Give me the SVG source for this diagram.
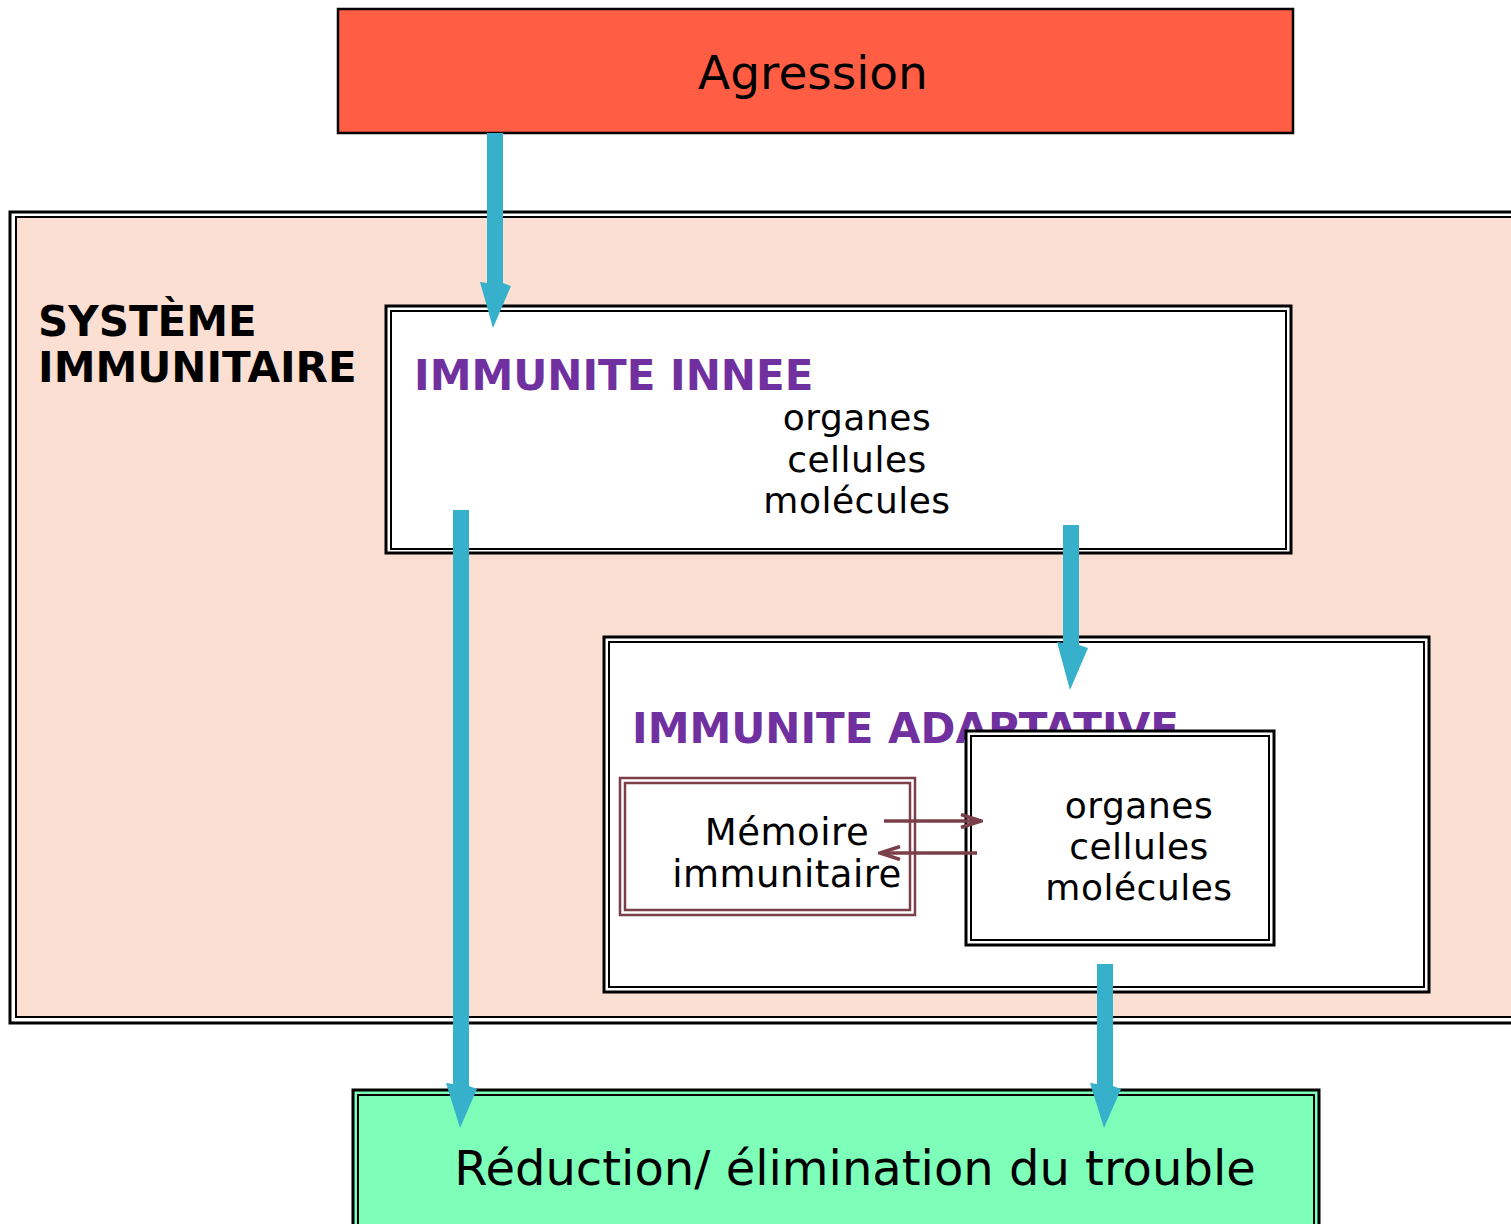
<svg xmlns="http://www.w3.org/2000/svg" width="1511" height="1224" viewBox="0 0 1511 1224">
<defs>
<style>
.t{font-family:"DejaVu Sans","Liberation Sans",sans-serif;fill:#000}
.b{font-weight:bold}
.p{fill:#7030A0}
.s{letter-spacing:0.5px}
.o{stroke:#000;stroke-width:3}
.i{stroke:#000;stroke-width:2}
.blue{fill:#36B0CB}
.br{stroke:#7B3F4A;stroke-width:3.5;fill:none}
</style>
<marker id="chev" viewBox="0 0 24 16" refX="22" refY="8" markerWidth="24" markerHeight="16" markerUnits="userSpaceOnUse" orient="auto">
<path d="M2,1.5 L22,8 L2,14.5" fill="none" stroke="#7B3F4A" stroke-width="3.5"/>
</marker>
</defs>
<rect width="1511" height="1224" fill="#fff"/>

<g id="agression">
<rect x="338" y="9" width="955" height="124" fill="#FF5E45" stroke="#000" stroke-width="2.5"/>
<text class="t" x="813" y="89" font-size="47" text-anchor="middle">Agression</text>
</g>

<g id="systeme">
<rect class="o" x="10" y="212" width="1515" height="811" fill="#fff"/>
<rect class="i" x="16" y="217" width="1510" height="800" fill="#FADFD2"/>
<text class="t b" x="38" y="336" font-size="42">SYSTÈME</text>
<text class="t b" x="38" y="382" font-size="42">IMMUNITAIRE</text>
</g>

<g id="innee">
<rect class="o" x="386" y="306" width="905" height="247" fill="#fff"/>
<rect class="i" x="391" y="311" width="895" height="238" fill="#fff"/>
<text class="t b p" x="414" y="390" font-size="42">IMMUNITE INNEE</text>
<text class="t s" x="857" y="430" font-size="36" text-anchor="middle">organes</text>
<text class="t s" x="857" y="472" font-size="36" text-anchor="middle">cellules</text>
<text class="t s" x="857" y="513" font-size="36" text-anchor="middle">molécules</text>
</g>

<g id="adaptative">
<rect class="o" x="604" y="637" width="825" height="355" fill="#fff"/>
<rect class="i" x="609" y="642" width="815" height="345" fill="#fff"/>
<text class="t b p" x="632" y="743" font-size="42">IMMUNITE ADAPTATIVE</text>
</g>

<g id="memoire">
<rect x="620" y="778" width="295" height="137" fill="#fff" stroke="#7B3F4A" stroke-width="2.5"/>
<rect x="625" y="783" width="285" height="127" fill="none" stroke="#7B3F4A" stroke-width="2.5"/>
<text class="t s" x="787" y="845" font-size="37" text-anchor="middle">Mémoire</text>
<text class="t s" x="787" y="887" font-size="37" text-anchor="middle">immunitaire</text>
</g>

<g id="composants">
<rect class="o" x="966" y="731" width="308" height="214" fill="#fff"/>
<rect class="i" x="971" y="736" width="298" height="204" fill="#fff"/>
<text class="t s" x="1139" y="818" font-size="36" text-anchor="middle">organes</text>
<text class="t s" x="1139" y="859" font-size="36" text-anchor="middle">cellules</text>
<text class="t s" x="1139" y="900" font-size="36" text-anchor="middle">molécules</text>
</g>

<g id="reduction">
<rect class="o" x="353" y="1090" width="966" height="140" fill="#7DFFB9"/>
<rect class="i" x="358" y="1095" width="956" height="130" fill="#7DFFB9"/>
<text class="t" x="855" y="1185" font-size="48" text-anchor="middle">Réduction/ élimination du trouble</text>
</g>

<g id="connectors">
<polygon class="blue" points="487,133 503,133 503,283 511,286 493,328 480,282 487,283"/>
<polygon class="blue" points="453,510 469,510 469,1086 477,1089 460,1128 446,1083 453,1084"/>
<polygon class="blue" points="1063,525 1079,525 1079,645 1088,648 1070,690 1057,642 1063,643"/>
<polygon class="blue" points="1097,964 1113,964 1113,1086 1121,1089 1104,1128 1090,1083 1097,1084"/>
<line class="br" x1="884" y1="821" x2="981" y2="821" marker-end="url(#chev)"/>
<line class="br" x1="977" y1="853" x2="880" y2="853" marker-end="url(#chev)"/>
</g>
</svg>
